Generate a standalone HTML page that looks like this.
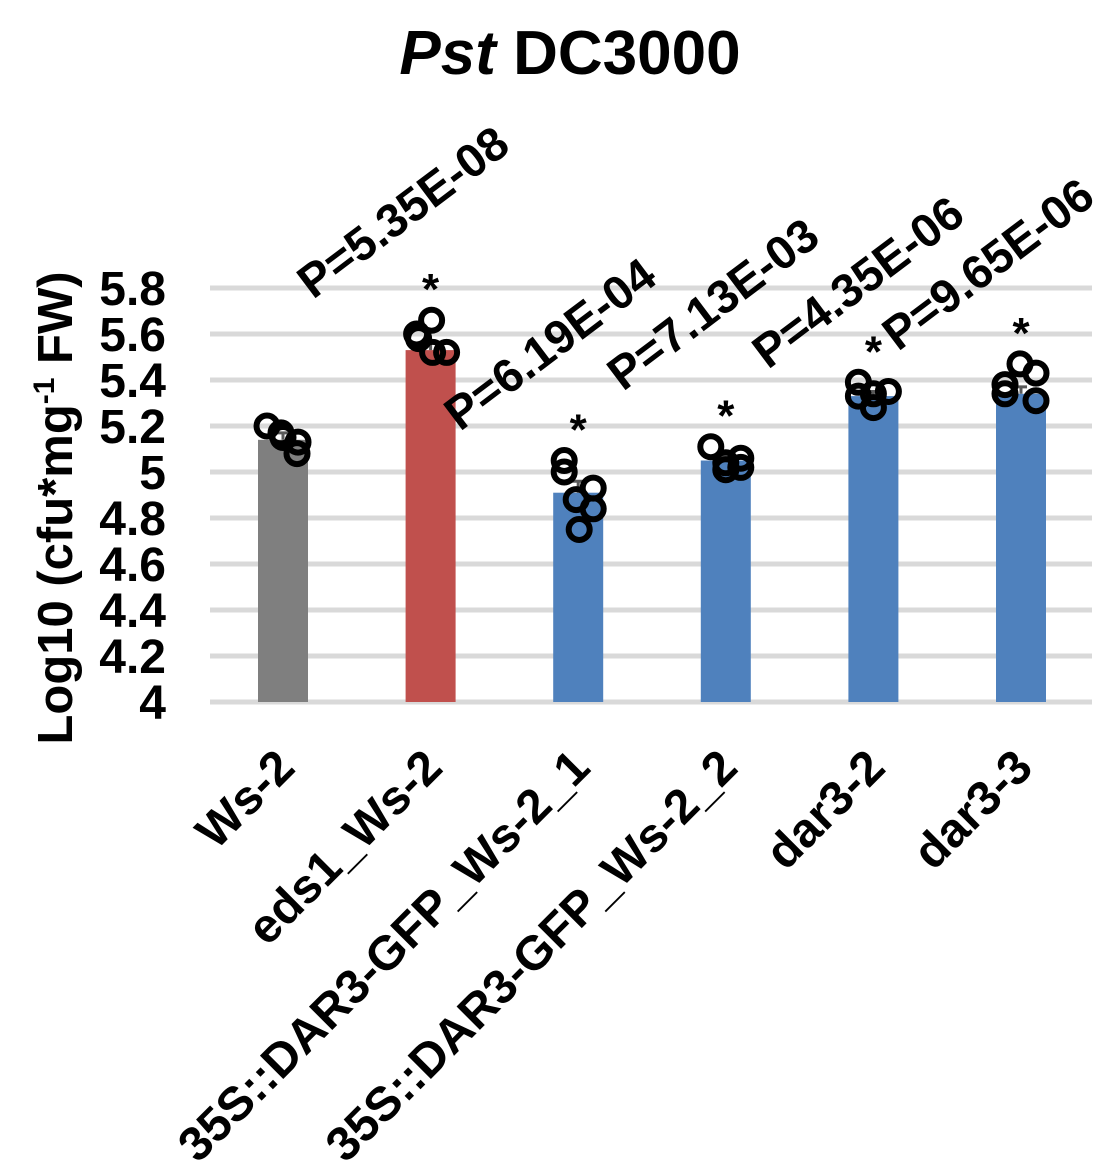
<!DOCTYPE html>
<html><head><meta charset="utf-8"><style>
body{margin:0;background:#fff}
svg{display:block;font-family:"Liberation Sans",Arial,sans-serif;font-weight:bold}
</style></head><body>
<svg id="chart" width="1111" height="1172" viewBox="0 0 1111 1172" xmlns="http://www.w3.org/2000/svg">
<text x="570" y="74" text-anchor="middle" font-size="62"><tspan font-style="italic">Pst</tspan> DC3000</text>
<text transform="translate(72,508) rotate(-90)" text-anchor="middle" font-size="49">Log10 (cfu*mg<tspan dy="-18" font-size="30">-1</tspan><tspan dy="18"> FW)</tspan></text>
<g id="grid"></g><g id="bars"></g><g id="errs"></g><g id="pts"></g><g id="labels"></g>
</svg>
<script>
const categories=["Ws-2","eds1_Ws-2","35S::DAR3-GFP_Ws-2_1","35S::DAR3-GFP_Ws-2_2","dar3-2","dar3-3"];
const means=[5.14,5.53,4.91,5.05,5.33,5.34];
const errs=[0.03,0.04,0.05,0.02,0.02,0.03];
const colors=["#7f7f7f","#c0504d","#4f81bd","#4f81bd","#4f81bd","#4f81bd"];
const points=[[5.20,5.15,5.13,5.08,5.17],[5.60,5.66,5.52,5.52,5.58],[5.05,5.00,4.93,4.88,4.84,4.75],[5.11,5.01,5.06,5.04,5.02],[5.39,5.33,5.28,5.35,5.34],[5.38,5.34,5.47,5.43,5.31]];
const pointOffsets=[[-16,0,15,14,-2],[-14,1,2,16,-12],[-14,-14,15,-2,15,1],[-15,0,15,0,15],[-15,-15,0,15,0],[-16,-16,-1,15,15]];
const pValues=["","P=5.35E-08","P=6.19E-04","P=7.13E-03","P=4.35E-06","P=9.65E-06"];
const stars=["","*","*","*","*","*"];
const ticks=[4,4.2,4.4,4.6,4.8,5,5.2,5.4,5.6,5.8];
const ns="http://www.w3.org/2000/svg";
const y=v=>702-(v-4)/1.8*414;
const x=i=>283+i*147.6;
const bw=50;
function mk(tag,attrs,parent,text){const e=document.createElementNS(ns,tag);for(const k in attrs)e.setAttribute(k,attrs[k]);if(text!==undefined)e.textContent=text;document.getElementById(parent).appendChild(e);return e;}
ticks.forEach(t=>{
 const l=mk('line',{x1:210,x2:1092,y1:y(t),y2:y(t),stroke:'#d9d9d9','stroke-width':5},'grid');
 
 
 const tx=mk('text',{x:166,y:y(t)+17,'text-anchor':'end','font-size':48},'grid',String(t));
 
 
});
categories.forEach((c,i)=>{
 const r=mk('rect',{x:x(i)-bw/2,y:y(means[i]),width:bw,height:y(4)-y(means[i]),fill:colors[i]},'bars');
 
 
 const e=mk('path',{d:`M${x(i)} ${y(means[i])} V${y(means[i]+errs[i])} M${x(i)-6} ${y(means[i]+errs[i])} H${x(i)+6}`,stroke:'#595959','stroke-width':3,fill:'none'},'errs');
 
 
 points[i].forEach((p,j)=>{
  const ci=mk('circle',{cx:x(i)+pointOffsets[i][j],cy:y(p),r:10.5,fill:'none',stroke:'#000','stroke-width':6},'pts');
  
  
 });
 const lx=x(i)+14, ly=770;
 const lab=mk('text',{x:lx,y:ly,'text-anchor':'end','font-size':48,transform:`rotate(-45 ${lx} ${ly})`},'labels',c);
 
 
 if(stars[i]){
  const s=mk('text',{x:x(i),y:y(Math.max(...points[i]))-16,'text-anchor':'middle','font-size':44},'labels',stars[i]);
  
  
 }
});
const pStart=[[0,0],[313,300],[460,432],[623,392],[768,370],[898,352]];
pValues.forEach((p,i)=>{
 if(!p)return;
 const [px,py]=pStart[i];
 const t=mk('text',{x:px,y:py,'font-size':47,transform:`rotate(-37 ${px} ${py})`},'labels',p);
 
 
});
</script>
</body></html>
